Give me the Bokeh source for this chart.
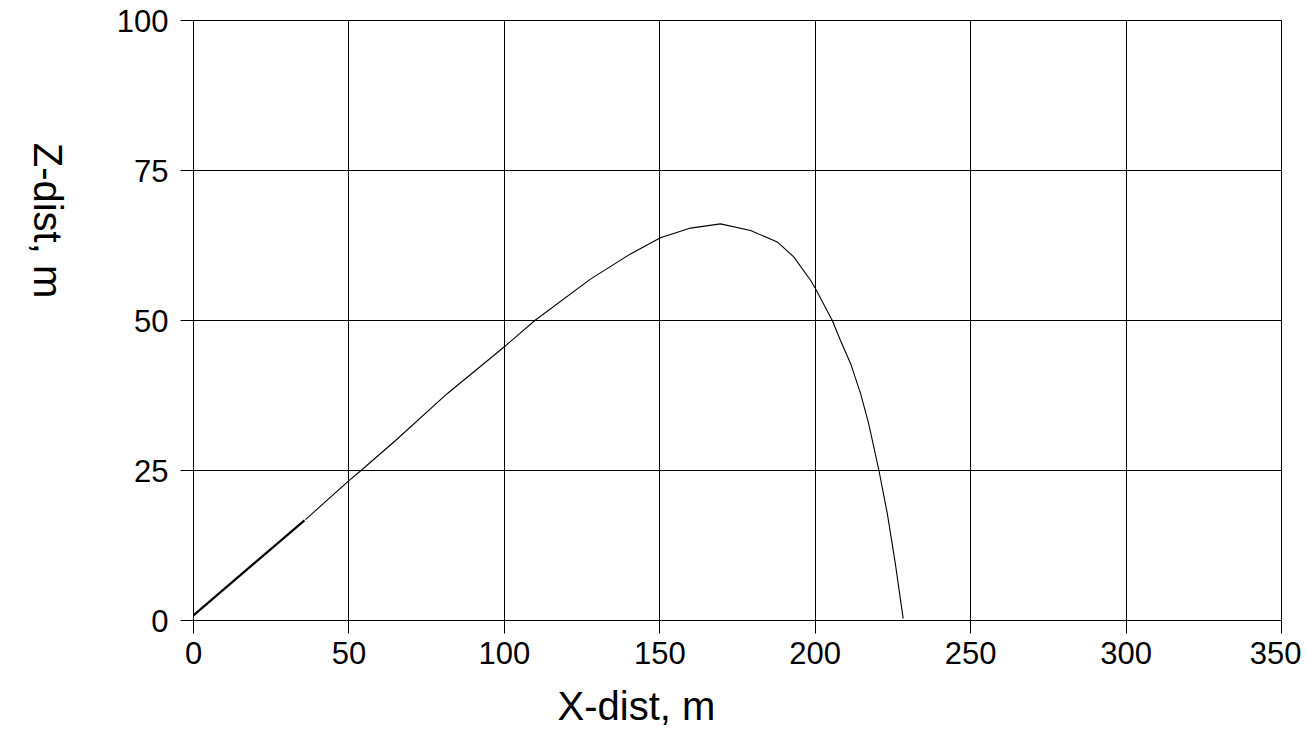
import math
from bokeh.plotting import figure
from bokeh.models import Range1d, FixedTicker, Label, LinearAxis, Title
from bokeh.embed import file_html
from bokeh.resources import INLINE

# Thick initial segment
seg1_x = [-0.6, 35.7]
seg1_z = [0.6, 16.7]

# Trajectory (thin line)
traj_x = [36.0, 50.0, 53.9, 65.0, 81.6, 100.4, 109.8, 127.7, 140.6, 150.2, 159.9,
          169.5, 179.2, 187.8, 193.1, 198.5, 200.1, 205.5, 208.1, 211.4, 214.6,
          217.2, 220.5, 223.2, 225.8, 228.3]
traj_z = [16.8, 23.3, 25.0, 30.0, 37.8, 45.8, 50.0, 56.9, 61.1, 63.8, 65.4,
          66.1, 65.0, 63.1, 60.6, 56.7, 55.3, 50.0, 46.7, 42.8, 37.8,
          32.8, 25.0, 17.8, 9.4, 0.3]

x_ticks = [0, 50, 100, 150, 200, 250, 300, 350]
y_ticks = [0, 25, 50, 75, 100]

FONT = "Liberation Sans"

p = figure(output_backend="svg", toolbar_location=None,
           frame_width=1088, frame_height=600,
           x_range=Range1d(0, 350), y_range=Range1d(0, 100),
           min_border_left=193, min_border_top=20, min_border_right=20,
           min_border_bottom=100)
p.outline_line_color = "black"
p.outline_line_width = 1
p.background_fill_color = "white"
p.border_fill_color = "white"

for ax in (p.xaxis[0], p.yaxis[0]):
    ax.axis_line_color = "black"
    ax.major_tick_line_color = "black"
    ax.major_tick_in = 14
    ax.major_tick_out = 13
    ax.minor_tick_line_color = None
    ax.major_label_text_font = FONT
    ax.major_label_text_font_size = "31px"
    ax.major_label_text_color = "black"

p.xaxis.ticker = FixedTicker(ticks=x_ticks)
p.yaxis.ticker = FixedTicker(ticks=y_ticks)
p.xaxis.major_label_standoff = 8
p.yaxis.major_label_standoff = 12

# X axis title, placed left of centre as in the reference
xtitle = Title(text="X-dist, m", align="left", offset=364, standoff=30,
               text_font=FONT, text_font_size="40px", text_font_style="normal",
               text_color="black")
p.add_layout(xtitle, "below")

p.xgrid.ticker = FixedTicker(ticks=x_ticks)
p.ygrid.ticker = FixedTicker(ticks=y_ticks)
for g in (p.xgrid[0], p.ygrid[0]):
    g.grid_line_color = "black"
    g.grid_line_width = 1
    g.grid_line_alpha = 1.0

p.line(seg1_x, seg1_z, line_color="black", line_width=2.2)
p.line(traj_x, traj_z, line_color="black", line_width=1.1)

if "axis_label_orientation" in LinearAxis.properties():
    p.yaxis.axis_label = "Z-dist, m" + "\u00a0" * 2
    p.yaxis.axis_label_text_font = FONT
    p.yaxis.axis_label_text_font_size = "40px"
    p.yaxis.axis_label_text_font_style = "normal"
    p.yaxis.axis_label_text_color = "black"
    p.yaxis.axis_label_orientation = -math.pi / 2
    p.yaxis.axis_label_standoff = 66
else:
    ylab = Label(x=-161, y=397, x_units="screen", y_units="screen",
                 text="Z-dist, m", angle=-math.pi / 2,
                 text_align="center", text_baseline="middle",
                 text_font=FONT, text_font_size="40px", text_color="black")
    p.add_layout(ylab)

open("out.html", "w").write(file_html(p, INLINE))
